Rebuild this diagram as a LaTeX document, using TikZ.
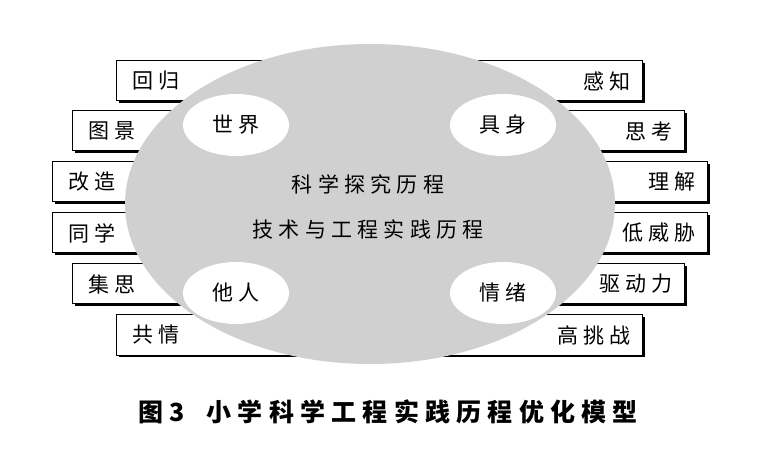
\documentclass[tikz,border=0pt]{standalone}
\usepackage{fontspec}
\setmainfont{Noto Sans CJK SC}
\usetikzlibrary{shadows,shapes.geometric}
\definecolor{ovalgray}{HTML}{D0D0D0}
\newcommand{\labelfont}{\fontsize{21}{21}\selectfont\addfontfeature{LetterSpace=25}}
\tikzset{
  lbox/.style={draw, fill=white, line width=1pt, anchor=west, minimum height=40pt,
    text width=200pt, align=left, inner xsep=16pt, font=\labelfont,
    drop shadow={shadow xshift=2pt, shadow yshift=-2pt, fill=black, opacity=1}},
  rbox/.style={lbox, anchor=east, align=right, inner xsep=12pt},
  inner oval/.style={ellipse, fill=white, minimum width=106pt, minimum height=62pt,
    font=\labelfont}
}
\begin{document}
\begin{tikzpicture}[x=1pt,y=-1pt]
\useasboundingbox (0,0) rectangle (777,465);

% left column
\node[lbox] (huigui) at (116,81) {回归};
\node[lbox] (tujing) at (72,131) {图景};
\node[lbox] (gaizao) at (52,182) {改造};
\node[lbox] (tongxue) at (52,233) {同学};
\node[lbox] (jisi) at (72,284) {集思};
\node[lbox] (gongqing) at (116,335) {共情};

% right column
\node[rbox] (ganzhi) at (643,81) {感知};
\node[rbox] (sikao) at (685,131) {思考};
\node[rbox] (lijie) at (708,182) {理解};
\node[rbox] (dweixie) at (708,233) {低威胁};
\node[rbox] (qudongli) at (685,284) {驱动力};
\node[rbox] (gtiaozhan) at (643,335) {高挑战};

% big oval
\fill[ovalgray] (370,204) ellipse [x radius=245, y radius=160];

\node[inner oval] (shijie) at (236,125) {世界};
\node[inner oval] (jushen) at (503,125) {具身};
\node[inner oval] (taren) at (236,293) {他人};
\node[inner oval] (qingxu) at (503,293) {情绪};

\node[font=\labelfont] (kexue) at (368,184) {科学探究历程};
\node[font=\labelfont] (jishu) at (368,229) {技术与工程实践历程};

\node[font=\fontsize{25}{25}\selectfont\bfseries\addfontfeature{LetterSpace=25}] (caption) at (388,412) {图3\hspace{22pt}小学科学工程实践历程优化模型};
\end{tikzpicture}
\end{document}
